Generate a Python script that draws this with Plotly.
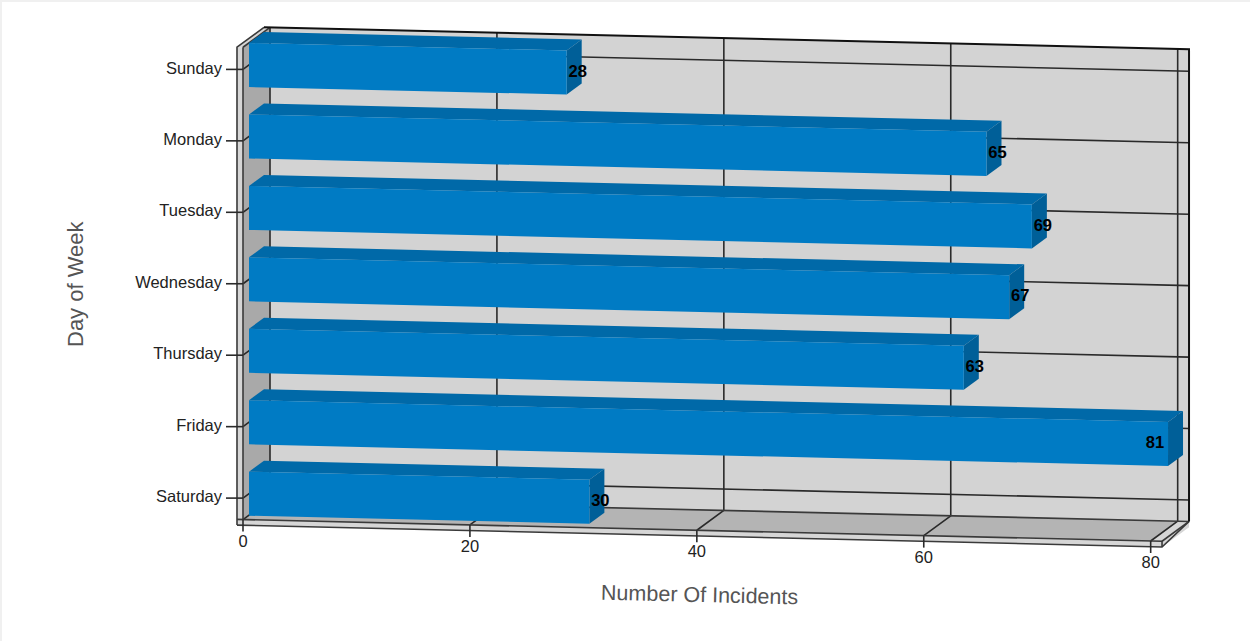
import plotly.graph_objects as go

days = ["Sunday", "Monday", "Tuesday", "Wednesday", "Thursday", "Friday", "Saturday"]
incidents = [28, 65, 69, 67, 63, 81, 30]
x_ticks = [0, 20, 40, 60, 80]
x_title = "Number Of Incidents"
y_title = "Day of Week"

V_MAX = 81
V_PAD = -0.53
C_TOP, C_BOT, C_EDGE = -0.31, 6.3, 6.38
D_FRONT, D_BACK = -0.4, 1.4
HALF_BAR = 0.308

FRONT = "#007bc4"
TOP = "#0069a8"
SIDE = "#005f98"
WALL = "#d3d3d3"
SIDE_WALL = "#a9a9a9"
FLOOR = "#b4b4b4"
EDGE = "#d6d6d6"
INK = "#2a2a2a"


def P(v, c, d=0.0):
    """Oblique projection of (value, category slot, depth) to page pixels."""
    return 249 + 11.346 * v + 15 * d, 65 + 71.45 * c + 0.268 * v - 11 * d


def poly(points, color):
    xy = [P(*p) for p in points]
    xy.append(xy[0])
    return go.Scatter(
        x=[a for a, _ in xy], y=[b for _, b in xy], mode="lines", fill="toself",
        fillcolor=color, line=dict(width=0), hoverinfo="skip", showlegend=False,
    )


def lines(segments, color=INK, width=1.6):
    xs, ys = [], []
    for seg_ in segments:
        for a, b in seg_:
            xs.append(a)
            ys.append(b)
        xs.append(None)
        ys.append(None)
    return go.Scatter(
        x=xs, y=ys, mode="lines", line=dict(color=color, width=width),
        hoverinfo="skip", showlegend=False,
    )


def seg(*pts):
    return [P(*p) for p in pts]


def text(xs, ys, labels, pos, size=16.5, color="#222222", family="Liberation Sans", weight="normal"):
    return go.Scatter(
        x=xs, y=ys, mode="text", text=labels, textposition=pos,
        textfont=dict(size=size, color=color, family=family, weight=weight),
        hoverinfo="skip", showlegend=False,
    )


fig = go.Figure()

# Chart box: back wall, side wall, floor and the light outer edges
fig.add_trace(poly([(0, C_TOP, D_BACK), (V_MAX, C_TOP, D_BACK), (V_MAX, C_BOT, D_BACK), (0, C_BOT, D_BACK)], WALL))
fig.add_trace(poly([(0, C_TOP, D_FRONT), (0, C_TOP, D_BACK), (0, C_BOT, D_BACK), (0, C_BOT, D_FRONT)], SIDE_WALL))
fig.add_trace(poly([(0, C_BOT, D_FRONT), (80, C_BOT, D_FRONT), (80, C_BOT, D_BACK), (0, C_BOT, D_BACK)], FLOOR))
fig.add_trace(poly([(80, C_BOT, D_FRONT), (V_MAX, C_BOT, D_FRONT), (V_MAX, C_BOT, D_BACK), (80, C_BOT, D_BACK)], EDGE))
fig.add_trace(poly([(V_PAD, C_TOP, D_FRONT), (0, C_TOP, D_FRONT), (0, C_BOT, D_FRONT), (V_PAD, C_BOT, D_FRONT)], EDGE))
fig.add_trace(poly([(V_PAD, C_BOT, D_FRONT), (V_MAX, C_BOT, D_FRONT), (V_MAX, C_EDGE, D_FRONT), (V_PAD, C_EDGE, D_FRONT)], EDGE))
fig.add_trace(poly([(V_PAD, C_TOP, D_FRONT), (0, C_TOP, D_FRONT), (0, C_TOP, D_BACK), (V_PAD, C_TOP, D_BACK)], EDGE))
fig.add_trace(poly([(V_MAX, C_BOT, D_FRONT), (V_MAX, C_EDGE, D_FRONT), (V_MAX, C_EDGE, D_BACK), (V_MAX, C_BOT, D_BACK)], EDGE))

# Grid on the walls and floor
grid = []
for v in x_ticks:
    grid.append(seg((v, C_TOP, D_BACK), (v, C_BOT, D_BACK), (v, C_BOT, D_FRONT)))
for c in range(len(days)):
    grid.append(seg((V_MAX, c, D_BACK), (0, c, D_BACK), (0, c, D_FRONT)))
fig.add_trace(lines(grid))

# Box outline: softer on the front edges, darkest along the top and right
front_edges = [
    seg((V_PAD, C_EDGE, D_FRONT), (V_PAD, C_TOP, D_FRONT), (V_PAD, C_TOP, D_BACK)),
    seg((V_MAX, C_BOT, D_BACK), (V_MAX, C_EDGE, D_FRONT), (V_PAD, C_EDGE, D_FRONT)),
    seg((0, C_TOP, D_FRONT), (0, C_TOP, D_BACK)),
    seg((V_PAD, C_BOT, D_FRONT), (V_MAX, C_BOT, D_FRONT), (V_MAX, C_EDGE, D_FRONT)),
    seg((V_MAX, C_BOT, D_FRONT), (V_MAX, C_BOT, D_BACK)),
    seg((0, C_BOT, D_BACK), (V_MAX, C_BOT, D_BACK)),
    seg((0, C_TOP, D_FRONT), (0, C_BOT, D_FRONT)),
]
fig.add_trace(lines(front_edges, color="#3a3a3a", width=1.6))
back_edges = [seg((V_PAD, C_TOP, D_BACK), (V_MAX, C_TOP, D_BACK), (V_MAX, C_BOT, D_BACK))]
fig.add_trace(lines(back_edges, color="#111111", width=2))

# Bars, painted from the back row to the front row
for c, value in enumerate(incidents):
    hi, lo = c - HALF_BAR, c + HALF_BAR
    fig.add_trace(poly([(0, hi, 0), (value, hi, 0), (value, hi, 1), (0, hi, 1)], TOP))
    fig.add_trace(poly([(value, hi, 0), (value, hi, 1), (value, lo, 1), (value, lo, 0)], SIDE))
    fig.add_trace(poly([(0, hi, 0), (value, hi, 0), (value, lo, 0), (0, lo, 0)], FRONT))

# Axis tick stubs
x_stubs = []
for v in x_ticks:
    x0, y0 = P(v, C_BOT, D_FRONT)
    x_stubs.append([(x0, y0), (x0, y0 + 12)])
y_stubs = []
for c in range(len(days)):
    x0, y0 = P(0, c, D_FRONT)
    y_stubs.append([(x0 - 17, y0), (x0, y0)])
fig.add_trace(lines(x_stubs + y_stubs))

# Tick labels
pts = [P(v, C_BOT, D_FRONT) for v in x_ticks]
fig.add_trace(text([p[0] for p in pts], [p[1] + 23 for p in pts], [str(v) for v in x_ticks], "middle center"))
pts = [P(0, c, D_FRONT) for c in range(len(days))]
fig.add_trace(text([p[0] - 21 for p in pts], [p[1] for p in pts], days, "middle left"))

# Value labels: beside the bar end, except where the bar reaches the box edge
ends = [P(v, c, 0) for c, v in enumerate(incidents)]
fig.add_trace(text(
    [e[0] + (-13 if v >= V_MAX else 11) for e, v in zip(ends, incidents)],
    [e[1] for e in ends],
    [str(v) for v in incidents], "middle center", color="#000000", weight="bold",
))

fig.update_layout(
    width=1250, height=641, margin=dict(l=0, r=0, t=0, b=0), autosize=False,
    paper_bgcolor="white", plot_bgcolor="white", showlegend=False,
    xaxis=dict(range=[0, 1250], visible=False, fixedrange=True),
    yaxis=dict(range=[641, 0], visible=False, fixedrange=True),
    shapes=[
        dict(type="rect", xref="x", yref="y", x0=0, x1=1250, y0=0, y1=2, fillcolor="#f0f0f0", line=dict(width=0), layer="below"),
        dict(type="rect", xref="x", yref="y", x0=0, x1=2, y0=0, y1=641, fillcolor="#f0f0f0", line=dict(width=0), layer="below"),
    ],
    annotations=[
        dict(text=x_title, x=699, y=594.5, xref="x", yref="y", showarrow=False, textangle=1.35,
             font=dict(size=21.5, color="#555555", family="Liberation Sans")),
        dict(text=y_title, x=75, y=284, xref="x", yref="y", showarrow=False, textangle=-90,
             font=dict(size=22, color="#555555", family="Liberation Sans")),
    ],
)

fig.write_html(
    "out.html",
    config=dict(displayModeBar=False),
    post_script="document.body.style.margin='0';document.body.style.overflow='hidden';",
)
